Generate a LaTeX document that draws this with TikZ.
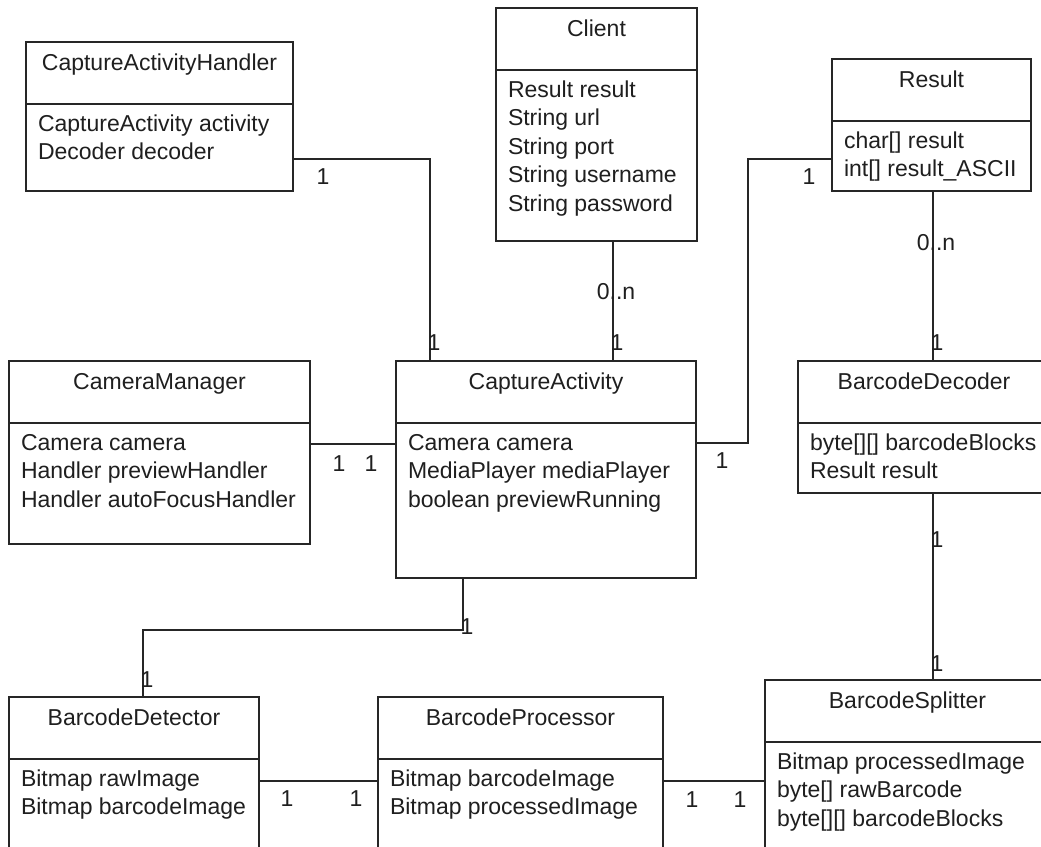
\documentclass[tikz,border=0pt]{standalone}
\usepackage{fontspec}
\setmainfont{Liberation Sans}
\usetikzlibrary{calc}

\tikzset{
  boxline/.style={draw=black!85, line width=1.4pt},
  classbox/.style={boxline, fill=white, rectangle, inner sep=0pt, outer sep=0pt, anchor=north west},
  txt/.style={inner sep=0pt, outer sep=0pt, text=black!88, font=\fontsize{23}{28.5}\selectfont},
  mult/.style={txt, anchor=center},
  conn/.style={draw=black!85, line width=1.4pt},
}

% #1 name, #2 x, #3 y, #4 width, #5 height, #6 title, #7 attribute lines
\newcommand\umlclass[7]{%
  \node[classbox, minimum width=#4pt, minimum height=#5pt] (#1) at (#2,#3) {};
  \draw[boxline] ([yshift=-62pt]#1.north west) -- ([yshift=-62pt]#1.north east);
  \node[txt, anchor=base] (#1-title) at ([yshift=-28pt]#1.north) {#6};
  \foreach \t [count=\i] in {#7}
    \node[txt, anchor=base west] (#1-a\i) at ([xshift=12pt, yshift={-(89+(\i-1)*28.5)*1pt}]#1.north west) {\t};
}

\begin{document}
\begin{tikzpicture}[x=1pt, y=-1pt]
  \fill[white] (0,0) rectangle (1041,846);
  \clip (0,0) rectangle (1041,846);

  % classes
  \umlclass{cah}{26}{42}{267}{149}{CaptureActivityHandler}{CaptureActivity activity, Decoder decoder}
  \umlclass{client}{496}{8}{201}{233}{Client}{Result result, String url, String port, String username, String password}
  \umlclass{result}{832}{59}{199}{132}{Result}{char[] result, int[] result\_ASCII}
  \umlclass{cam}{9}{361}{301}{183}{CameraManager}{Camera camera, Handler previewHandler, Handler autoFocusHandler}
  \umlclass{ca}{396}{361}{300}{217}{CaptureActivity}{Camera camera, MediaPlayer mediaPlayer, boolean previewRunning}
  \umlclass{dec}{798}{361}{252}{132}{BarcodeDecoder}{byte[][] barcodeBlocks, Result result}
  \umlclass{det}{9}{697}{250}{180}{BarcodeDetector}{Bitmap rawImage, Bitmap barcodeImage}
  \umlclass{proc}{378}{697}{285}{180}{BarcodeProcessor}{Bitmap barcodeImage, Bitmap processedImage}
  \umlclass{split}{765}{680}{285}{200}{BarcodeSplitter}{Bitmap processedImage, byte[] rawBarcode, byte[][] barcodeBlocks}

  % associations
  \draw[conn] ($(cah.north east)+(0,117)$) -| ($(ca.north west)+(34,0)$);
  \node[mult] (m1) at (323,177) {1};
  \node[mult] (m2) at (434,343) {1};

  \draw[conn] ($(client.south west)+(117,0)$) -- ($(ca.north west)+(217,0)$);
  \node[mult] (m3) at (616,292) {0..n};
  \node[mult] (m4) at (617,343) {1};

  \draw[conn] ($(result.north west)+(0,100)$) -| (748,300) |- ($(ca.north east)+(0,82)$);
  \node[mult] (m5) at (809,177) {1};
  \node[mult] (m6) at (722,461) {1};

  \draw[conn] ($(result.south west)+(101,0)$) -- ($(dec.north west)+(135,0)$);
  \node[mult] (m7) at (936,243) {0..n};
  \node[mult] (m8) at (937,343) {1};

  \draw[conn] ($(dec.north west)+(135,132)$) -- ($(split.north west)+(168,0)$);
  \node[mult] (m9) at (937,540) {1};
  \node[mult] (m10) at (937,664) {1};

  \draw[conn] ($(cam.north east)+(0,83)$) -- ($(ca.north west)+(0,83)$);
  \node[mult] (m11) at (339,464) {1};
  \node[mult] (m12) at (371,464) {1};

  \draw[conn] ($(ca.south west)+(67,0)$) |- (300,630) -| ($(det.north west)+(134,0)$);
  \node[mult] (m13) at (467,627) {1};
  \node[mult] (m14) at (147,680) {1};

  \draw[conn] ($(det.north east)+(0,84)$) -- ($(proc.north west)+(0,84)$);
  \node[mult] (m15) at (287,799) {1};
  \node[mult] (m16) at (356,799) {1};

  \draw[conn] ($(proc.north east)+(0,84)$) -- ($(split.north west)+(0,101)$);
  \node[mult] (m17) at (692,800) {1};
  \node[mult] (m18) at (740,800) {1};
\end{tikzpicture}
\end{document}
